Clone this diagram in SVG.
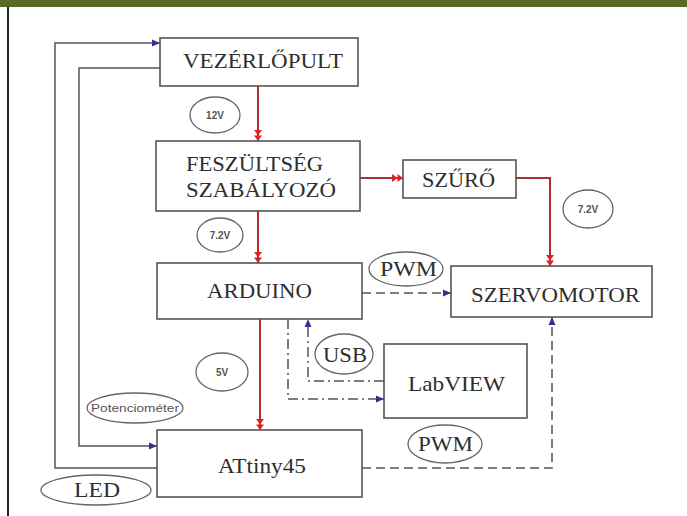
<svg xmlns="http://www.w3.org/2000/svg" width="687" height="516" viewBox="0 0 687 516">
<defs>
<style>
.box{fill:#fff;stroke:#555;stroke-width:1.6}
.t{font-family:'Liberation Serif','DejaVu Serif','Times New Roman',serif;fill:#2e2e2e;text-anchor:middle;font-size:22px}
.s{font-family:'Liberation Sans','DejaVu Sans',Arial,sans-serif;fill:#555;text-anchor:middle;font-size:10px;font-weight:bold}
.p{font-family:'Liberation Sans','DejaVu Sans',Arial,sans-serif;fill:#555;text-anchor:middle;font-size:11px}
.ell{fill:#fff;stroke:#666;stroke-width:1.3}
.w{fill:none;stroke:#555;stroke-width:1.5}
.red{fill:none;stroke:#b32b2b;stroke-width:2}
.dash{fill:none;stroke:#555;stroke-width:1.5;stroke-dasharray:9 5}
.dd{fill:none;stroke:#555;stroke-width:1.5;stroke-dasharray:10 4 2 4}
</style>
<marker id="ab" markerUnits="userSpaceOnUse" markerWidth="9" markerHeight="8" refX="8" refY="4" orient="auto">
<path d="M0,0.5 L8,4 L0,7.5 z" fill="#33338f"/>
</marker>
<marker id="ar" markerUnits="userSpaceOnUse" markerWidth="12" markerHeight="8" refX="11" refY="4" orient="auto">
<path d="M0,0 L5.5,4 L0,8 z M5.5,0 L11,4 L5.5,8 z" fill="#dd2222"/>
</marker>
</defs>
<rect width="687" height="516" fill="#fff"/>
<rect width="687" height="7" fill="#5a6b22"/>
<line x1="8" y1="7" x2="8" y2="516" stroke="#222" stroke-width="2"/>

<g id="connectors">
<path class="red" d="M258,86 V141" marker-end="url(#ar)"/>
<path class="red" d="M258,211 V263" marker-end="url(#ar)"/>
<path class="red" d="M260,319 V430" marker-end="url(#ar)"/>
<path class="red" d="M360,178 H403" marker-end="url(#ar)"/>
<path class="red" d="M516,178 H550 V266" marker-end="url(#ar)"/>
<path class="w" d="M157,468 H55 V43 H160" marker-end="url(#ab)"/>
<path class="w" d="M160,68 H79 V446 H157" marker-end="url(#ab)"/>
<path class="dash" d="M362,293 H451" marker-end="url(#ab)"/>
<path class="dash" d="M362,468 H552 V317" marker-end="url(#ab)"/>
<path class="dd" d="M288,319 V399 H384" marker-end="url(#ab)"/>
<path class="dd" d="M384,381 H308 V319" marker-end="url(#ab)"/>
</g>

<g id="vezerlopult"><rect class="box" x="160" y="38" width="198" height="48"/><text class="t" x="263" y="68" textLength="160" lengthAdjust="spacingAndGlyphs">VEZÉRLŐPULT</text></g>
<g id="feszultseg"><rect class="box" x="156" y="141" width="204" height="70"/><text class="t" x="254.5" y="171" textLength="137" lengthAdjust="spacingAndGlyphs">FESZÜLTSÉG</text><text class="t" x="261" y="197" textLength="150" lengthAdjust="spacingAndGlyphs">SZABÁLYOZÓ</text></g>
<g id="szuro"><rect class="box" x="403" y="160" width="113" height="38"/><text class="t" x="458.5" y="187" textLength="73" lengthAdjust="spacingAndGlyphs">SZŰRŐ</text></g>
<g id="arduino"><rect class="box" x="157" y="263" width="205" height="56"/><text class="t" x="259.5" y="298" textLength="105" lengthAdjust="spacingAndGlyphs">ARDUINO</text></g>
<g id="szervomotor"><rect class="box" x="451" y="266" width="201" height="51"/><text class="t" x="555.5" y="302" textLength="169" lengthAdjust="spacingAndGlyphs">SZERVOMOTOR</text></g>
<g id="labview"><rect class="box" x="384" y="344" width="143" height="74"/><text class="t" x="456.5" y="391" textLength="97" lengthAdjust="spacingAndGlyphs">LabVIEW</text></g>
<g id="attiny"><rect class="box" x="157" y="430" width="205" height="67"/><text class="t" x="262" y="473" textLength="88" lengthAdjust="spacingAndGlyphs">ATtiny45</text></g>

<g id="l12v"><ellipse class="ell" cx="215" cy="115" rx="25" ry="18"/><text class="s" x="215" y="119">12V</text></g>
<g id="l72a"><ellipse class="ell" cx="220" cy="235" rx="23" ry="17"/><text class="s" x="220" y="239">7.2V</text></g>
<g id="l72b"><ellipse class="ell" cx="588" cy="209" rx="25" ry="19"/><text class="s" x="588" y="213">7.2V</text></g>
<g id="l5v"><ellipse class="ell" cx="222" cy="372" rx="26" ry="19"/><text class="s" x="222" y="376">5V</text></g>
<g id="lpot"><ellipse class="ell" cx="135" cy="408" rx="48" ry="15"/><text class="p" x="135" y="412" textLength="88" lengthAdjust="spacingAndGlyphs">Potenciométer</text></g>
<g id="lled"><ellipse class="ell" cx="96" cy="490" rx="55" ry="15"/><text class="t" x="97" y="497" textLength="46" lengthAdjust="spacingAndGlyphs">LED</text></g>
<g id="lpwm1"><ellipse class="ell" cx="406" cy="269" rx="37" ry="17"/><text class="t" x="408.5" y="276" textLength="57" lengthAdjust="spacingAndGlyphs">PWM</text></g>
<g id="lusb"><ellipse class="ell" cx="344" cy="354" rx="29" ry="20"/><text class="t" x="345" y="362" textLength="44" lengthAdjust="spacingAndGlyphs">USB</text></g>
<g id="lpwm2"><ellipse class="ell" cx="445" cy="444" rx="37" ry="19"/><text class="t" x="445.5" y="451" textLength="55" lengthAdjust="spacingAndGlyphs">PWM</text></g>
</svg>
